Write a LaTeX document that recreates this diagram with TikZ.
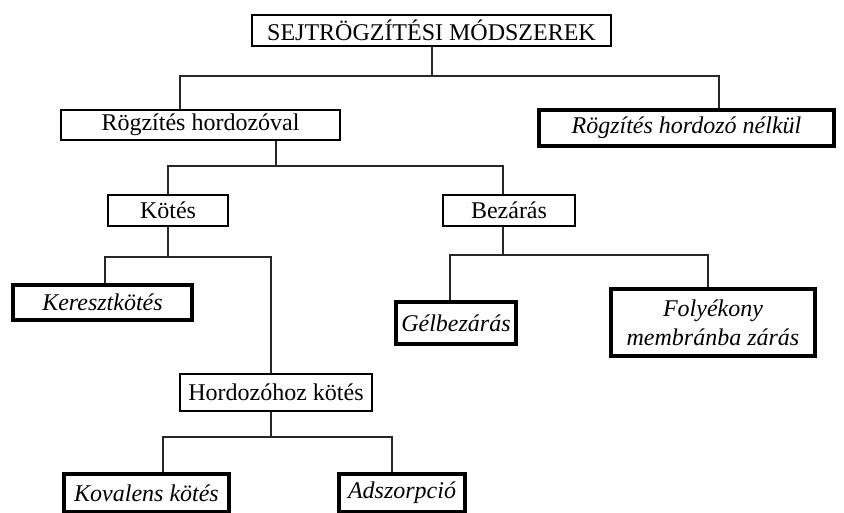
\documentclass[tikz,border=0pt]{standalone}
\usepackage{fontspec}
\setmainfont{Liberation Serif}
\begin{document}
\begin{tikzpicture}[x=1pt,y=-1pt,
  every node/.style={font=\fontsize{24}{29}\selectfont, inner sep=0pt, align=center},
  thinbox/.style={draw=black, line width=1.2pt, rectangle, fill=white},
  thickbox/.style={draw=black, line width=4pt, rectangle, fill=white, font=\fontsize{24}{29}\selectfont\itshape},
  conn/.style={draw=black!85, line width=1.4pt}
]
\useasboundingbox (0,0) rectangle (844,512);

% thin boxes
\node[thinbox, minimum width=359pt, minimum height=31pt] (top) at (431.5,30.5) {SEJTRÖGZÍTÉSI MÓDSZEREK};
\node[thinbox, minimum width=279pt, minimum height=30pt] (hv) at (200.5,125) {Rögzítés hordozóval};
\node[thinbox, minimum width=120pt, minimum height=31pt] (kotes) at (168,210.5) {Kötés};
\node[thinbox, minimum width=132pt, minimum height=31pt] (bez) at (509,210.5) {Bezárás};
\node[thinbox, minimum width=192pt, minimum height=37pt] (hk) at (276,392.5) {Hordozóhoz kötés};

% thick boxes
\node[thickbox, minimum width=295pt, minimum height=36pt] (nelkul) at (686.5,128) {Rögzítés hordozó nélkül};
\node[thickbox, minimum width=179pt, minimum height=35pt] (kereszt) at (102.5,302.5) {Keresztkötés};
\node[thickbox, minimum width=120pt, minimum height=42pt] (gel) at (456,323) {Gélbezárás};
\node[thickbox, minimum width=204pt, minimum height=67pt] (foly) at (713,322.5) {Folyékony\\membránba zárás};
\node[thickbox, minimum width=165pt, minimum height=38pt] (kov) at (146.5,493) {Kovalens kötés};
\node[thickbox, minimum width=126pt, minimum height=38pt] (adsz) at (402,493) {Adszorpció};

% junction coordinates
\coordinate (j1) at (432,76);
\coordinate (j1l) at (180,76);
\coordinate (j1r) at (719,76);
\coordinate (j2) at (276,166);
\coordinate (j2l) at (168,166);
\coordinate (j2r) at (503,166);
\coordinate (j3) at (168,257);
\coordinate (j3l) at (105,257);
\coordinate (j3r) at (271,257);
\coordinate (j4) at (503,255);
\coordinate (j4l) at (450,255);
\coordinate (j4r) at (708,255);
\coordinate (j5) at (271,437);
\coordinate (j5l) at (163,437);
\coordinate (j5r) at (392,437);

% connectors
\draw[conn] (top.south -| j1) -- (j1);
\draw[conn] (hv.north -| j1l) -- (j1l) -- (j1r) -- (nelkul.north -| j1r);

\draw[conn] (hv.south -| j2) -- (j2);
\draw[conn] (kotes.north -| j2l) -- (j2l) -- (j2r) -- (bez.north -| j2r);

\draw[conn] (kotes.south -| j3) -- (j3);
\draw[conn] (kereszt.north -| j3l) -- (j3l) -- (j3r) -- (hk.north -| j3r);

\draw[conn] (bez.south -| j4) -- (j4);
\draw[conn] (gel.north -| j4l) -- (j4l) -- (j4r) -- (foly.north -| j4r);

\draw[conn] (hk.south -| j5) -- (j5);
\draw[conn] (kov.north -| j5l) -- (j5l) -- (j5r) -- (adsz.north -| j5r);
\end{tikzpicture}
\end{document}
